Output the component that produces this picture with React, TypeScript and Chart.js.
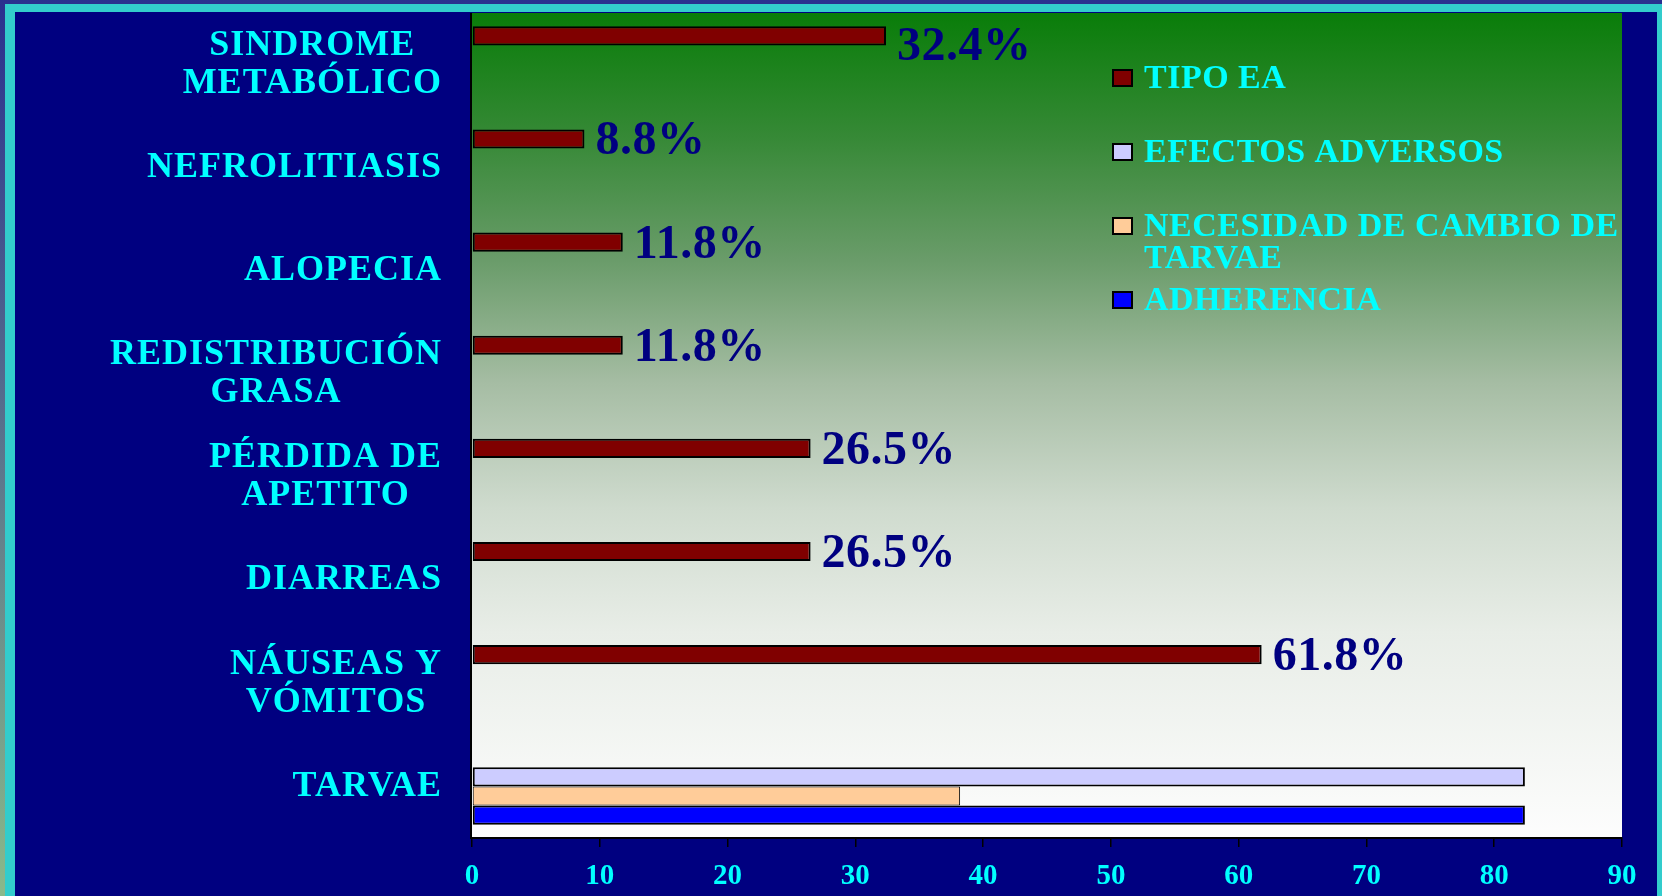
import React, { useEffect, useRef } from 'react';
import { Chart, registerables } from 'chart.js';

Chart.register(...registerables);

const categories: string[][] = [
  ['SINDROME', 'METABÓLICO'],
  ['NEFROLITIASIS'],
  ['ALOPECIA'],
  ['REDISTRIBUCIÓN', 'GRASA'],
  ['PÉRDIDA DE', 'APETITO'],
  ['DIARREAS'],
  ['NÁUSEAS Y', 'VÓMITOS'],
  ['TARVAE'],
];

const seriesNames = ['TIPO EA', 'EFECTOS ADVERSOS', 'NECESIDAD DE CAMBIO DE TARVAE', 'ADHERENCIA'];
const tipoEA = [32.4, 8.8, 11.8, 11.8, 26.5, 26.5, 61.8, null];
const efectosAdversos = [null, null, null, null, null, null, null, 82.4];
const necesidadCambio = [null, null, null, null, null, null, null, 38.2];
const adherencia = [null, null, null, null, null, null, null, 82.4];
const xTicks = [0, 10, 20, 30, 40, 50, 60, 70, 80, 90];

const seriesColors = ['#800000', '#ccccff', '#ffcc99', '#0000ff'];
const FONT = '"Liberation Serif", "Times New Roman", serif';

const bgPlugin = {
  id: 'plotGradient',
  beforeDraw(chart: any) {
    const { ctx, chartArea: a } = chart;
    ctx.save();
    const g = ctx.createLinearGradient(0, a.top, 0, a.bottom);
    g.addColorStop(0, '#097d09');
    g.addColorStop(0.15, '#368936');
    g.addColorStop(0.3, '#6a9c6a');
    g.addColorStop(0.45, '#a6bda4');
    g.addColorStop(0.6, '#cfdbce');
    g.addColorStop(0.75, '#e8ede7');
    g.addColorStop(1, '#fdfdfd');
    ctx.fillStyle = g;
    ctx.fillRect(a.left, a.top, a.right - a.left, a.bottom - a.top);
    ctx.restore();
  },
};

const textPlugin = {
  id: 'textOverlay',
  afterDraw(chart: any) {
    const { ctx, chartArea: a } = chart;
    const yScale = chart.scales.y;
    ctx.save();

    // y axis line
    ctx.strokeStyle = '#000000';
    ctx.lineWidth = 2;
    ctx.beginPath();
    ctx.moveTo(a.left - 1, a.top);
    ctx.lineTo(a.left - 1, a.bottom + 1);
    ctx.stroke();

    // category labels
    ctx.font = `bold 36px ${FONT}`;
    (ctx as any).letterSpacing = '1px';
    ctx.fillStyle = '#00ffff';
    ctx.textAlign = 'center';
    ctx.textBaseline = 'middle';
    const labels: string[][] = chart.data.labels;
    labels.forEach((lines, i) => {
      const yc = yScale.getPixelForValue(i);
      const lh = 38;
      const widths = lines.map((l) => ctx.measureText(l).width);
      const blockW = Math.max(...widths);
      const right = a.left - 30;
      const cx = right - blockW / 2;
      lines.forEach((l, j) => {
        const y = yc + (j - (lines.length - 1) / 2) * lh;
        ctx.fillText(l, cx, y);
      });
    });

    // data labels for first series
    const meta = chart.getDatasetMeta(0);
    ctx.font = `bold 48px ${FONT}`;
    (ctx as any).letterSpacing = '0.5px';
    ctx.fillStyle = '#000080';
    ctx.textAlign = 'left';
    ctx.textBaseline = 'middle';
    meta.data.forEach((el: any, i: number) => {
      const v = chart.data.datasets[0].data[i];
      if (v === null || v === undefined) return;
      const y = Math.max(el.y, a.top + 32) + 3;
      ctx.fillText(`${v.toFixed(1)}%`, el.x + 11, y);
    });

    // legend
    ctx.font = `bold 34px ${FONT}`;
    (ctx as any).letterSpacing = '0.5px';
    ctx.textAlign = 'left';
    ctx.textBaseline = 'middle';
    const boxX = 1113;
    const textX = 1144;
    const maxW = 505;
    chart.data.datasets.forEach((ds: any, i: number) => {
      const y = 78 + 74 * i;
      ctx.fillStyle = ds.backgroundColor;
      ctx.fillRect(boxX, y - 8, 19, 16);
      ctx.strokeStyle = '#000000';
      ctx.lineWidth = 2;
      ctx.strokeRect(boxX, y - 8, 19, 16);
      ctx.fillStyle = '#00ffff';
      const words = String(ds.label).split(' ');
      const lines: string[] = [];
      let cur = '';
      words.forEach((w) => {
        const test = cur ? cur + ' ' + w : w;
        if (ctx.measureText(test).width > maxW && cur) {
          lines.push(cur);
          cur = w;
        } else cur = test;
      });
      if (cur) lines.push(cur);
      lines.forEach((l, j) => ctx.fillText(l, textX, y + 1 + j * 32.5));
    });

    ctx.restore();
  },
};

export default function App() {
  const ref = useRef<HTMLCanvasElement | null>(null);

  useEffect(() => {
    if (!ref.current) return;
    const datasetsData = [tipoEA, efectosAdversos, necesidadCambio, adherencia];
    const chart = new Chart(ref.current, {
      type: 'bar',
      data: {
        labels: categories as any,
        datasets: datasetsData.map((d, i) => ({
          label: seriesNames[i],
          data: d as any,
          backgroundColor: seriesColors[i],
          borderColor: '#000000',
          borderWidth: i === 2 ? 1 : 2,
          borderSkipped: false,
          categoryPercentage: 0.742,
          barPercentage: 1.0,
        })),
      },
      options: {
        indexAxis: 'y',
        animation: false,
        responsive: false,
        devicePixelRatio: 1,
        events: [],
        layout: { padding: { left: 472, right: 40, top: 13, bottom: 0 } },
        plugins: {
          legend: { display: false },
          tooltip: { enabled: false },
        },
        scales: {
          x: {
            type: 'linear',
            min: 0,
            max: 90,
            afterBuildTicks: (axis: any) => {
              axis.ticks = xTicks.map((v) => ({ value: v }));
            },
            afterFit: (axis: any) => {
              axis.height = 58;
            },
            grid: {
              display: true,
              drawOnChartArea: false,
              drawTicks: true,
              tickLength: 9,
              color: '#000000',
              lineWidth: 1.5,
            },
            border: { display: true, color: '#000000', width: 2 },
            ticks: {
              color: '#00ffff',
              padding: 12,
              font: { family: FONT, size: 29, weight: 'bold' },
            },
          },
          y: {
            type: 'category',
            display: false,
          },
        },
      },
      plugins: [bgPlugin, textPlugin],
    });
    return () => chart.destroy();
  }, []);

  return (
    <div
      style={{
        position: 'fixed',
        left: 0,
        top: 0,
        width: 1662,
        height: 896,
        overflow: 'hidden',
        background: 'linear-gradient(to bottom, #2a2f8f 0%, #8ab98a 100%)',
      }}
    >
      <div style={{ position: 'absolute', left: 5, top: 4, right: 0, bottom: 0, background: '#33cccc' }} />
      <div style={{ position: 'absolute', left: 15, top: 12, width: 1642, bottom: 0, background: '#000080' }} />
      <canvas
        ref={ref}
        width={1662}
        height={896}
        style={{ position: 'absolute', left: 0, top: 0, width: 1662, height: 896 }}
      />
    </div>
  );
}
